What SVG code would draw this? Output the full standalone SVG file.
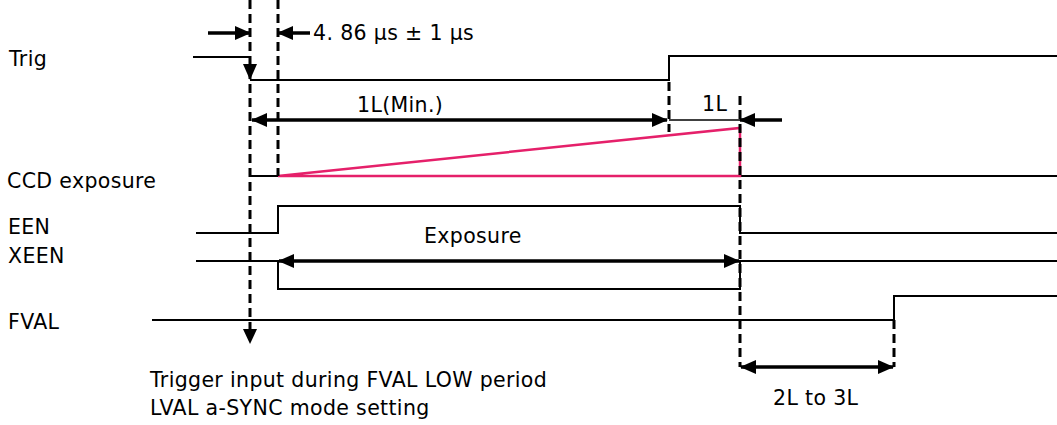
<svg xmlns="http://www.w3.org/2000/svg" width="1057" height="425" viewBox="0 0 1057 425">
<style>
.sig{fill:none;stroke:#000;stroke-width:2}
.dash{fill:none;stroke:#000;stroke-width:3;stroke-dasharray:9,5}
.arr{fill:none;stroke:#000;stroke-width:3.5}
.thin{fill:none;stroke:#000;stroke-width:1.5}
.red{fill:none;stroke:#e5206a;stroke-width:2.5}
text{font-family:"DejaVu Sans","Open Sans",sans-serif;font-size:20.5px;letter-spacing:0.35px;fill:#000}
</style>
<defs>
<marker id="ah" markerUnits="userSpaceOnUse" markerWidth="16" markerHeight="14" refX="15" refY="7" orient="auto-start-reverse" viewBox="0 0 16 14">
<path d="M0,0 L16,7 L0,14 Z" fill="#000"/>
</marker>
</defs>
<rect width="1057" height="425" fill="#fff"/>
<g id="labels">
<text x="9" y="66">Trig</text>
<text x="7" y="188">CCD exposure</text>
<text x="8" y="234">EEN</text>
<text x="8" y="263">XEEN</text>
<text x="8" y="329">FVAL</text>
</g>
<g id="trig"><path class="sig" d="M193,57 H250 M250,80 H669 V56 H1057"/></g>
<g id="ccd"><path class="sig" d="M250,176 H278 M740,176 H1057"/><path class="red" d="M278,176 L740,128 V176 Z"/></g>
<g id="een"><path class="sig" d="M196,233 H278 V206 H740 V233 H1057"/></g>
<g id="xeen"><path class="sig" d="M196,261 H278 V289 H740 V261 H1057"/></g>
<g id="fval"><path class="sig" d="M152,320 H894 V296 H1057"/></g>
<g id="connectors">
<path class="dash" d="M250,0 V330"/>
<path d="M243,329 L257,329 L250,344 Z" fill="#000"/>
<path d="M243,64 L257,64 L250,80 Z" fill="#000"/>
<path class="sig" d="M250,57 V66"/>
<path class="dash" d="M278,0 V176"/>
<path class="dash" d="M669,82 V132"/>
<path class="dash" d="M740,96 V367"/>
<path class="dash" d="M894,320 V367"/>
<path class="arr" d="M208,33 H250" marker-end="url(#ah)"/>
<path class="arr" d="M310,33 H278" marker-end="url(#ah)"/>
<path class="arr" d="M252,120 H667" marker-start="url(#ah)" marker-end="url(#ah)"/>
<path class="thin" d="M669,120 H740"/>
<path class="arr" d="M782,120 H740" marker-end="url(#ah)"/>
<path class="arr" d="M279,261 H739" marker-start="url(#ah)" marker-end="url(#ah)"/>
<path class="arr" d="M741,367 H893" marker-start="url(#ah)" marker-end="url(#ah)"/>
</g>
<g id="annotations">
<text x="313" y="40">4. 86 µs ± 1 µs</text>
<text x="357" y="112">1L(Min.)</text>
<text x="702" y="111">1L</text>
<text x="424" y="243">Exposure</text>
<text x="773" y="405">2L to 3L</text>
<text x="150" y="387">Trigger input during FVAL LOW period</text>
<text x="150" y="415">LVAL a-SYNC mode setting</text>
</g>
</svg>
